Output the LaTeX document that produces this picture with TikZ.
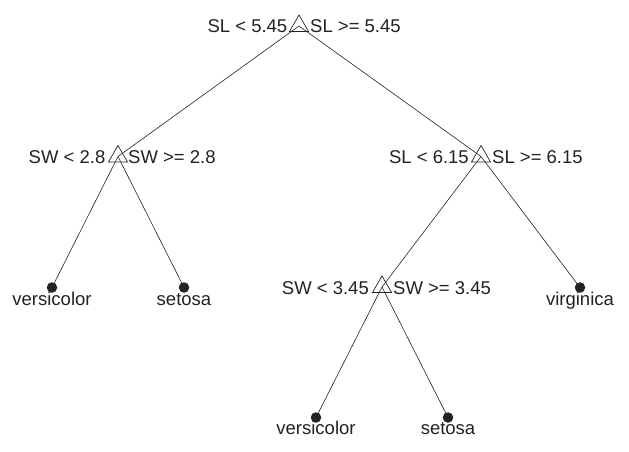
\documentclass[tikz,border=0pt]{standalone}
\usepackage{fontspec}
\setmainfont{Liberation Sans}
\usetikzlibrary{shapes.geometric,calc}

\definecolor{ink}{HTML}{222222}

\tikzset{
  split/.style={regular polygon, regular polygon sides=3, draw=ink,
    line width=0.7pt, minimum size=22pt, inner sep=0pt},
  leaf/.style={circle, fill=ink, draw=none, minimum size=10.5pt, inner sep=0pt},
  edge/.style={draw=ink, line width=0.6pt},
  lbl/.style={inner sep=0pt, text=ink, font=\fontsize{18.5}{21}\selectfont},
}

\begin{document}
\begin{tikzpicture}[x=1pt, y=-1pt]
  \useasboundingbox (0,0) rectangle (629,452);

  % split points (open triangles) and leaves (filled dots)
  \coordinate (root) at (299,26);
  \coordinate (n1)   at (118,156.5);
  \coordinate (n2)   at (481,156.5);
  \coordinate (n3)   at (382,287);
  \coordinate (l1)   at (52,287.5);
  \coordinate (l2)   at (184,287.5);
  \coordinate (l3)   at (580,287.5);
  \coordinate (l4)   at (316,417.5);
  \coordinate (l5)   at (448,417.5);

  % branches
  \draw[edge] (root) -- (n1);
  \draw[edge] (root) -- (n2);
  \draw[edge] (n1) -- (l1);
  \draw[edge] (n1) -- (l2);
  \draw[edge] (n2) -- (n3);
  \draw[edge] (n2) -- (l3);
  \draw[edge] (n3) -- (l4);
  \draw[edge] (n3) -- (l5);

  % triangle markers
  \node[split] (t0) at (root) {};
  \node[split] (t1) at (n1) {};
  \node[split] (t2) at (n2) {};
  \node[split] (t3) at (n3) {};

  % leaf markers
  \node[leaf] (d1) at (l1) {};
  \node[leaf] (d2) at (l2) {};
  \node[leaf] (d3) at (l3) {};
  \node[leaf] (d4) at (l4) {};
  \node[leaf] (d5) at (l5) {};

  % split rules
  \node[lbl, anchor=base east] (r0L) at ($(root)+(-11.5,7)$) {SL < 5.45};
  \node[lbl, anchor=base west] (r0R) at ($(root)+(11,7)$) {SL >= 5.45};
  \node[lbl, anchor=base east] (r1L) at ($(n1)+(-12.5,7)$) {SW < 2.8};
  \node[lbl, anchor=base west] (r1R) at ($(n1)+(10,7)$) {SW >= 2.8};
  \node[lbl, anchor=base east] (r2L) at ($(n2)+(-12,7)$) {SL < 6.15};
  \node[lbl, anchor=base west] (r2R) at ($(n2)+(11,7)$) {SL >= 6.15};
  \node[lbl, anchor=base east] (r3L) at ($(n3)+(-13,7)$) {SW < 3.45};
  \node[lbl, anchor=base west] (r3R) at ($(n3)+(11,7)$) {SW >= 3.45};

  % leaf classes
  \node[lbl, anchor=base] (c1) at ($(l1)+(0,17.5)$) {versicolor};
  \node[lbl, anchor=base] (c2) at ($(l2)+(0,17.5)$) {setosa};
  \node[lbl, anchor=base] (c3) at ($(l3)+(0,17.5)$) {virginica};
  \node[lbl, anchor=base] (c4) at ($(l4)+(0,16.5)$) {versicolor};
  \node[lbl, anchor=base] (c5) at ($(l5)+(0,16.5)$) {setosa};
\end{tikzpicture}
\end{document}
